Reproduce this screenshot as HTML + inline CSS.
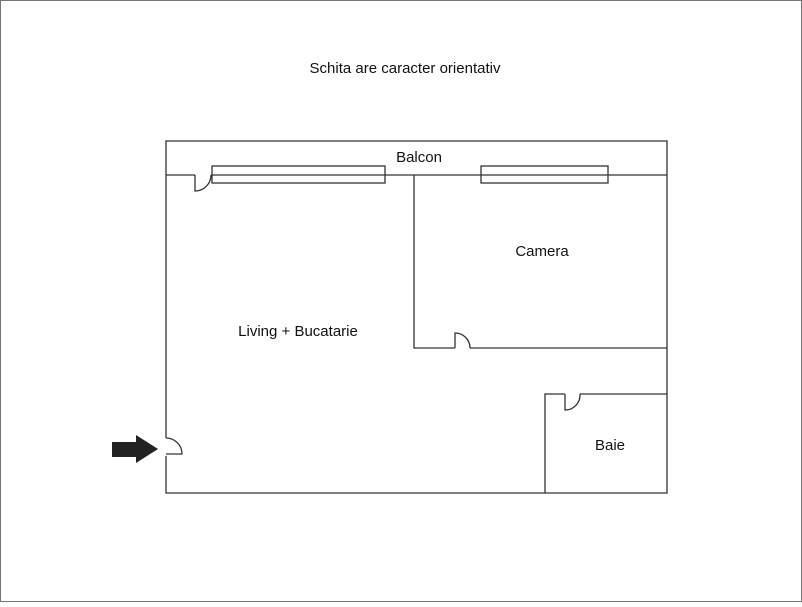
<!DOCTYPE html>
<html><head><style>
html,body{margin:0;padding:0;background:#fff;}
.t{font-family:"Liberation Sans",sans-serif;font-size:15px;fill:#111;}
</style></head><body>
<svg width="802" height="602" viewBox="0 0 802 602" xmlns="http://www.w3.org/2000/svg">
<rect x="0.5" y="0.5" width="801" height="601" fill="#fff" stroke="#777"/>
<text class="t" x="405" y="73" text-anchor="middle">Schita are caracter orientativ</text>
<g fill="none" stroke="#333" stroke-width="1.3">
<path d="M166 438 L166 141 L667 141 L667 493 L166 493 L166 456"/>
<path d="M166 175 L195 175 M211 175 L667 175"/>
<path d="M195 175 L195 191 A16 16 0 0 0 211 175"/>
<rect x="212" y="166" width="173" height="17"/>
<rect x="481" y="166" width="127" height="17"/>
<path d="M414 175 L414 348 L455 348 M470 348 L667 348"/>
<path d="M455 348 L455 333 A15 15 0 0 1 470 348"/>
<path d="M545 493 L545 394 L565 394 M580 394 L667 394"/>
<path d="M565 394 L565 410 A15 15 0 0 0 580 394"/>
<path d="M166 438 A16 16 0 0 1 182 454 L166 454"/>
</g>
<polygon points="112,442 136,442 136,435 158,449 136,463 136,457 112,457" fill="#222"/>
<text class="t" x="419" y="162" text-anchor="middle">Balcon</text>
<text class="t" x="542" y="256" text-anchor="middle">Camera</text>
<text class="t" x="298" y="336" text-anchor="middle">Living + Bucatarie</text>
<text class="t" x="610" y="450" text-anchor="middle">Baie</text>
</svg>
</body></html>
